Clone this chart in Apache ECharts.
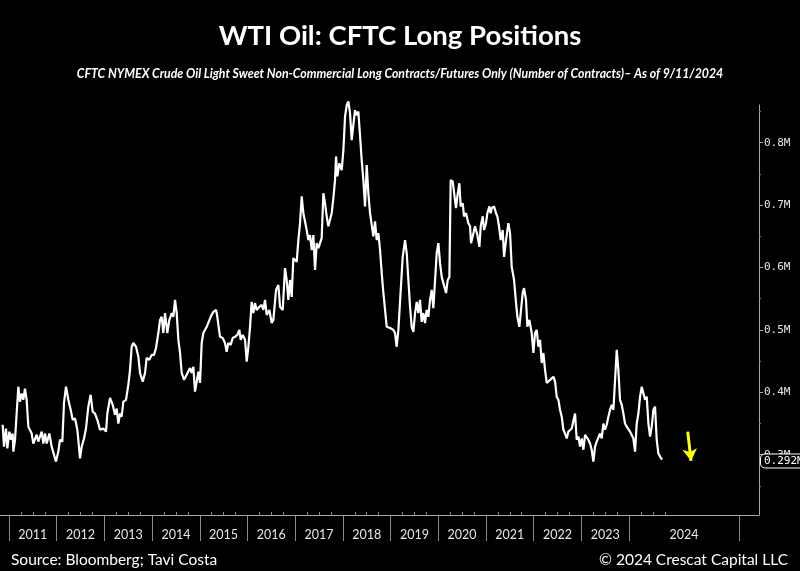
<!DOCTYPE html>
<html>
<head>
<meta charset="utf-8">
<script src="https://cdn.jsdelivr.net/npm/echarts@6/dist/echarts.min.js"></script>
<style>
html,body{margin:0;padding:0;background:#000;}
#chart{width:800px;height:571px;}
</style>
</head>
<body>
<div id="chart"></div>
<script>
// Weekly sample dates (decimal years)
const dates2011to2019 = [
2010.867,2010.895,2010.937,2010.965,2011.007,2011.042,2011.077,2011.091,2011.126,2011.161,
2011.195,2011.230,2011.265,2011.300,2011.335,2011.370,2011.405,2011.475,2011.510,2011.580,
2011.615,2011.685,2011.720,2011.755,2011.790,2011.845,2011.894,2011.929,2011.985,2012.034,
2012.069,2012.118,2012.153,2012.195,2012.244,2012.293,2012.335,2012.384,2012.433,2012.489,
2012.524,2012.573,2012.614,2012.663,2012.712,2012.754,2012.803,2012.852,2012.908,2012.978,
2013.034,2013.062,2013.118,2013.174,2013.223,2013.258,2013.292,2013.327,2013.362,2013.397,
2013.453,2013.502,2013.537,2013.572,2013.607,2013.663,2013.712,2013.747,2013.803,2013.852,
2013.887,2013.943,2013.991,2014.040,2014.082,2014.131,2014.166,2014.201,2014.236,2014.271,
2014.320,2014.362,2014.411,2014.446,2014.481,2014.516,2014.551,2014.586,2014.621,2014.670,
2014.725,2014.760,2014.795,2014.830,2014.865,2014.900,2014.935,2014.970,2015.005,2015.040,
2015.075,2015.110,2015.145,2015.180,2015.229,2015.285,2015.341,2015.368,2015.424,2015.480,
2015.529,2015.564,2015.599,2015.648,2015.690,2015.739,2015.788,2015.830,2015.858,2015.900,
2015.949,2015.984,2016.019,2016.054,2016.088,2016.123,2016.158,2016.193,2016.249,2016.298,
2016.333,2016.368,2016.403,2016.459,2016.508,2016.543,2016.599,2016.648,2016.683,2016.739,
2016.787,2016.822,2016.857,2016.892,2016.927,2016.962,2016.997,2017.032,2017.067,2017.102,
2017.137,2017.172,2017.207,2017.242,2017.277,2017.312,2017.347,2017.382,2017.417,2017.452,
2017.487,2017.521,2017.556,2017.591,2017.626,2017.661,2017.696,2017.731,2017.766,2017.801,
2017.836,2017.857,2017.885,2017.927,2017.976,2018.011,2018.046,2018.081,2018.116,2018.151,
2018.185,2018.220,2018.255,2018.290,2018.325,2018.360,2018.395,2018.430,2018.465,2018.500,
2018.535,2018.570,2018.605,2018.640,2018.675,2018.710,2018.745,2018.780,2018.815,2018.850,
2018.885,2018.920,2018.990,2019.059,2019.094,2019.129,2019.164
];
// Long contracts, millions
const longs2011to2019 = [
0.348,0.313,0.342,0.310,0.337,0.324,0.334,0.305,0.324,0.321,
0.409,0.385,0.398,0.388,0.406,0.388,0.345,0.334,0.318,0.332,
0.321,0.337,0.318,0.334,0.318,0.334,0.313,0.310,0.289,0.305,
0.324,0.321,0.383,0.409,0.388,0.372,0.356,0.358,0.340,0.294,
0.313,0.326,0.342,0.377,0.396,0.369,0.366,0.356,0.340,0.342,
0.337,0.366,0.391,0.380,0.364,0.374,0.350,0.366,0.361,0.385,
0.388,0.412,0.436,0.473,0.479,0.473,0.457,0.431,0.417,0.431,
0.455,0.452,0.460,0.460,0.471,0.495,0.516,0.521,0.495,0.527,
0.495,0.516,0.527,0.521,0.548,0.527,0.484,0.463,0.431,0.420,
0.428,0.431,0.439,0.431,0.441,0.401,0.417,0.433,0.415,0.479,
0.495,0.492,0.505,0.508,0.521,0.529,0.532,0.521,0.489,0.487,
0.479,0.465,0.479,0.476,0.487,0.489,0.492,0.500,0.484,0.492,
0.484,0.449,0.473,0.505,0.545,0.527,0.543,0.532,0.537,0.540,
0.532,0.548,0.524,0.532,0.511,0.516,0.564,0.572,0.537,0.532,
0.599,0.580,0.548,0.580,0.553,0.615,0.612,0.609,0.644,0.671,
0.714,0.687,0.687,0.660,0.644,0.652,0.628,0.652,0.596,0.639,
0.631,0.639,0.647,0.719,0.703,0.682,0.666,0.663,0.687,0.711,
0.740,0.778,0.746,0.767,0.756,0.788,0.842,0.860,0.866,0.847,
0.804,0.802,0.852,0.844,0.850,0.812,0.772,0.740,0.698,0.764,
0.719,0.687,0.690,0.650,0.674,0.644,0.655,0.628,0.591,0.559,
0.532,0.505,0.503,0.500,0.495,0.473,0.500
];
const dates2019to2024 = [
2019.255,2019.304,2019.339,2019.374,2019.409,2019.444,2019.479,2019.514,2019.549,2019.583,
2019.618,2019.653,2019.688,2019.723,2019.758,2019.793,2019.828,2019.863,2019.898,2019.933,
2019.968,2020.003,2020.038,2020.073,2020.108,2020.164,2020.199,2020.234,2020.261,2020.303,
2020.331,2020.373,2020.401,2020.443,2020.471,2020.513,2020.541,2020.583,2020.632,2020.667,
2020.688,2020.723,2020.772,2020.821,2020.863,2020.891,2020.933,2020.961,2021.002,2021.030,
2021.072,2021.100,2021.121,2021.170,2021.212,2021.240,2021.275,2021.310,2021.352,2021.380,
2021.422,2021.471,2021.506,2021.541,2021.590,2021.632,2021.660,2021.701,2021.729,2021.771,
2021.799,2021.841,2021.869,2021.911,2021.960,2021.995,2022.030,2022.065,2022.100,2022.135,
2022.170,2022.205,2022.240,2022.275,2022.310,2022.345,2022.380,2022.415,2022.450,2022.484,
2022.519,2022.554,2022.589,2022.624,2022.659,2022.694,2022.729,2022.764,2022.799,2022.834,
2022.869,2022.904,2022.939,2022.974,2023.009,2023.044,2023.079,2023.113,2023.148,2023.183,
2023.218,2023.253,2023.288,2023.323,2023.358,2023.393,2023.428,2023.463,2023.498,2023.533,
2023.568,2023.603,2023.638,2023.673,2023.708,2023.743,2023.777,2023.812,2023.847,2023.882,
2023.917,2023.952,2023.987,2024.022,2024.057,2024.092,2024.127,2024.162,2024.197,2024.232,
2024.267,2024.302,2024.337,2024.372,2024.407,2024.442,2024.477,2024.511,2024.546,2024.581,
2024.616,2024.651,2024.686,2024.694
];
const longs2019to2024 = [
0.617,0.644,0.623,0.580,0.537,0.505,0.497,0.527,0.545,0.527,
0.548,0.513,0.527,0.511,0.532,0.521,0.548,0.564,0.535,0.532,
0.623,0.639,0.607,0.585,0.575,0.559,0.580,0.585,0.740,0.738,
0.740,0.695,0.714,0.735,0.698,0.703,0.682,0.687,0.671,0.666,
0.639,0.650,0.666,0.652,0.633,0.666,0.682,0.660,0.671,0.687,
0.698,0.687,0.695,0.698,0.687,0.682,0.666,0.644,0.660,0.617,
0.644,0.671,0.655,0.601,0.580,0.543,0.521,0.505,0.527,0.559,
0.567,0.548,0.505,0.516,0.495,0.463,0.495,0.500,0.473,0.484,
0.447,0.463,0.436,0.415,0.417,0.420,0.423,0.425,0.417,0.393,
0.388,0.372,0.361,0.340,0.334,0.326,0.337,0.334,0.342,0.340,
0.366,0.324,0.329,0.313,0.326,0.308,0.332,0.329,0.324,0.318,
0.308,0.289,0.313,0.321,0.318,0.334,0.326,0.350,0.340,0.348,
0.361,0.372,0.380,0.372,0.420,0.468,0.436,0.388,0.380,0.366,
0.350,0.345,0.342,0.337,0.334,0.326,0.305,0.350,0.366,0.393,
0.409,0.412,0.388,0.393,0.350,0.329,0.345,0.372,0.377,0.324,
0.302,0.297,0.294,0.292
];

// Axis tick labels
const yearLabels = ['2011','2012','2013','2014','2015','2016','2017','2018','2019','2020','2021','2022','2023','2024'];
const yearBounds = [2011,2012,2013,2014,2015,2016,2017,2018,2019,2020,2021,2022,2023,2024,2026.307];
const yTicks = [0.3,0.4,0.5,0.6,0.7,0.8];
const yMinorTicks = [0.25,0.35,0.45,0.55,0.65,0.75,0.85];
const lastValue = 0.292;
const arrowFrom = [2025.232, 0.337];
const arrowTo = [2025.301, 0.290];

const dates = dates2011to2019.concat(dates2019to2024);
const longs = longs2011to2019.concat(longs2019to2024);
const seriesData = dates.map((d, i) => [d, longs[i]]);

const labelPos = yearLabels.map((_, i) => (yearBounds[i] + yearBounds[i + 1]) / 2);
const quarterTicks = [];
for (let y = 2011; y <= 2024; y++) { [0.25, 0.5, 0.75].forEach(q => quarterTicks.push(y + q)); }

const X_MIN = 2010.811, X_MAX = 2026.726;
const Y_MIN = 0.2034, Y_MAX = 0.8604;
const axisGrey = '#a8a8a8';
const labelCol = '#e6e6e6';

const chart = echarts.init(document.getElementById('chart'), null, {renderer: 'canvas'});
chart.setOption({
  backgroundColor: '#000',
  animation: false,
  title: [
    {text: 'WTI Oil: CFTC Long Positions', left: 'center', top: 17,
     textStyle: {color: '#fff', fontFamily: 'Lato', fontWeight: 'bold', fontSize: 27.5}},
    {text: 'CFTC NYMEX Crude Oil Light Sweet Non-Commercial Long Contracts/Futures Only (Number of Contracts)\u2013 As of 9/11/2024',
     left: 'center', top: 63,
     textStyle: {color: '#fff', fontFamily: 'Lato', fontWeight: 'bold', fontStyle: 'italic', fontSize: 12.3}},
    {text: 'Source: Bloomberg; Tavi Costa', left: 6, top: 547,
     textStyle: {color: '#fff', fontFamily: 'Lato', fontWeight: 'normal', fontSize: 15.5}},
    {text: '\u00a9 2024 Crescat Capital LLC', right: 7, top: 547,
     textStyle: {color: '#fff', fontFamily: 'Lato', fontWeight: 'normal', fontSize: 15.5}}
  ],
  grid: {left: 0, right: 41, top: 105, bottom: 56, containLabel: false},
  xAxis: [
    {type: 'value', min: X_MIN, max: X_MAX, position: 'bottom',
     splitLine: {show: false},
     axisLine: {show: true, lineStyle: {color: axisGrey, width: 1}},
     axisTick: {show: true, customValues: yearBounds, length: 26, inside: false, lineStyle: {color: '#8a8a8a', width: 1}},
     axisLabel: {show: true, customValues: labelPos, margin: 13, color: labelCol, fontFamily: 'Lato', fontSize: 12.5,
       formatter: v => { const i = labelPos.findIndex(p => Math.abs(p - v) < 1e-6); return i >= 0 ? yearLabels[i] : ''; }}
    },
    {type: 'value', min: X_MIN, max: X_MAX, position: 'bottom',
     splitLine: {show: false}, axisLine: {show: false},
     axisTick: {show: true, customValues: quarterTicks, length: 3, inside: true, lineStyle: {color: '#8a8a8a'}},
     axisLabel: {show: false}
    }
  ],
  yAxis: [
    {type: 'value', min: Y_MIN, max: Y_MAX, position: 'right',
     splitLine: {show: false},
     axisLine: {show: true, lineStyle: {color: axisGrey, width: 1}},
     axisTick: {show: true, customValues: yTicks, length: 4, inside: false, lineStyle: {color: axisGrey}},
     axisLabel: {show: true, customValues: yTicks, margin: 5, color: labelCol, fontFamily: 'DejaVu Sans Mono', fontSize: 11,
       formatter: v => v.toFixed(1) + 'M'}
    },
    {type: 'value', min: Y_MIN, max: Y_MAX, position: 'right',
     splitLine: {show: false}, axisLine: {show: false},
     axisTick: {show: true, customValues: yMinorTicks, length: 2, inside: false, lineStyle: {color: '#777'}},
     axisLabel: {show: false}
    }
  ],
  series: [{
    type: 'line',
    data: seriesData,
    xAxisIndex: 0, yAxisIndex: 0,
    showSymbol: false,
    clip: false,
    lineStyle: {color: '#fff', width: 2.2},
    z: 3,
    markLine: {
      silent: true,
      symbol: ['none', 'none'],
      animation: false,
      z: 10,
      data: [
        {yAxis: lastValue, lineStyle: {color: 'rgba(0,0,0,0)', width: 1},
         label: {show: true, position: 'end', distance: 2, formatter: lastValue.toFixed(3) + 'M',
           color: '#fff', fontFamily: 'DejaVu Sans Mono', fontSize: 11,
           backgroundColor: '#000', borderColor: '#fff', borderWidth: 1, borderRadius: 4, padding: [1, 3, 1, 3]}},
        [
          {coord: arrowFrom, symbol: 'none', lineStyle: {color: '#ffff00', width: 3, type: 'solid'}, label: {show: false}},
          {coord: arrowTo, symbol: 'arrow', symbolSize: [11, 12]}
        ]
      ]
    }
  }]
});
</script>
</body>
</html>
